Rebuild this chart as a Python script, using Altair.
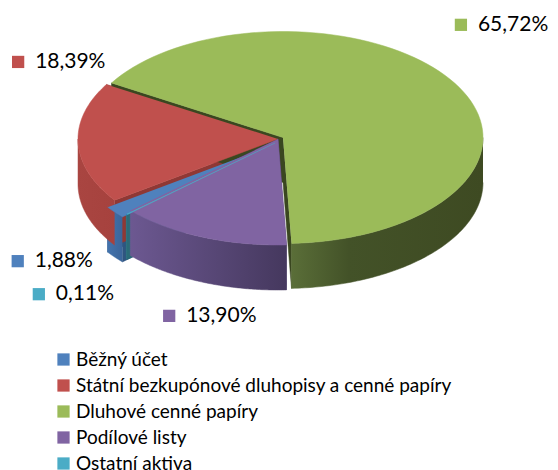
import altair as alt
import pandas as pd

# ---------------- data ----------------
categories = [
    "Běžný účet",
    "Státní bezkupónové dluhopisy a cenné papíry",
    "Dluhové cenné papíry",
    "Podílové listy",
    "Ostatní aktiva",
]
shares = [1.88, 18.39, 65.72, 13.90, 0.11]
label_texts = ["1,88%", "18,39%", "65,72%", "13,90%", "0,11%"]

# ---------------- style ----------------
top_colors = ["#4F81BD", "#C0504D", "#9BBB59", "#8064A2", "#4BACC6"]
wall_stops = [
    [(0, "#4373AD"), (1, "#3A659A")],
    [(0, "#A94541"), (1, "#A6423E")],
    [(0, "#5A6E38"), (0.3, "#435228"), (1, "#3E4A22")],
    [(0, "#6C5891"), (1, "#45385E")],
    [(0, "#2F7684"), (1, "#2A6A77")],
]
face_colors = ["#2F5580", "#8F3835", "#3A4720", "#4A3B6A", "#2A6B78"]
explode_dx = [-7, 0, 5, 0, -3]
explode_dy = [7, 0, -1.5, 0, 4]
label_dx = [-104, -60, 11, -32, -91]   # nudge of label marker from slice rim point
label_dy = [56, -81, -60, 79, 84]

W, H = 558, 470
CX, CY, RA, RB, DEPTH = 278, 139, 200, 106, 45
START = 228   # degrees clockwise from 12 o'clock where first slice begins
N = 90
FONT = "Lato"

df = pd.DataFrame({
    "cat": categories,
    "value": shares,
    "label": label_texts,
    "ord": list(range(len(categories))),
    "top_col": top_colors,
    "face_col": face_colors,
    "ox": explode_dx,
    "oy": explode_dy,
    "ldx": label_dx,
    "ldy": label_dy,
})

xs = alt.Scale(domain=[0, W], nice=False, zero=False)
ys = alt.Scale(domain=[0, H], nice=False, zero=False, reverse=True)

base = (
    alt.Chart(df)
    .transform_joinaggregate(total="sum(value)")
    .transform_window(cum="sum(value)", sort=[alt.SortField("ord")], frame=[None, 0])
    .transform_calculate(
        t1=f"{START} + (datum.cum - datum.value) / datum.total * 360",
        t2=f"{START} + datum.cum / datum.total * 360",
    )
    .transform_calculate(tm="(datum.t1 + datum.t2) / 2")
)

enc_xy = dict(
    x=alt.X("px:Q", scale=xs, axis=None),
    y=alt.Y("py:Q", scale=ys, axis=None),
)

# radial side faces of each slice (visible only in explode gaps)
faces = (
    base.transform_calculate(e="[0, 1]")
    .transform_flatten(["e"])
    .transform_calculate(te="(datum.e == 0 ? datum.t1 : datum.t2) * PI / 180")
    .transform_calculate(k="sequence(0, 4)")
    .transform_flatten(["k"])
    .transform_calculate(
        rim="(datum.k == 1 || datum.k == 2) ? 1 : 0",
        dn=f"(datum.k >= 2) ? {DEPTH} : 0",
    )
    .transform_calculate(
        px=f"{CX} + datum.ox + datum.rim * {RA} * sin(datum.te)",
        py=f"{CY} + datum.oy - datum.rim * {RB} * cos(datum.te) + datum.dn",
    )
    .mark_line(strokeWidth=0.5)
    .encode(
        **enc_xy,
        order="k:Q",
        detail=["cat:N", "e:Q"],
        fill=alt.Fill("face_col:N", scale=None),
        stroke=alt.Stroke("face_col:N", scale=None),
    )
)

# front walls (one layer per slice so each can carry its own shading)
wall_base = (
    base.transform_calculate(w="[0, 1]")
    .transform_flatten(["w"])
    .transform_calculate(
        lo="max(datum.t1, 90 + 360 * datum.w)",
        hi="min(datum.t2, 270 + 360 * datum.w)",
    )
    .transform_filter("datum.lo < datum.hi")
    .transform_calculate(k=f"sequence(0, {2 * N + 2})")
    .transform_flatten(["k"])
    .transform_calculate(j=f"datum.k <= {N} ? datum.k : {2 * N + 1} - datum.k")
    .transform_calculate(t=f"(datum.lo + (datum.hi - datum.lo) * datum.j / {N}) * PI / 180")
    .transform_calculate(
        px=f"{CX} + datum.ox + {RA} * sin(datum.t)",
        py=f"{CY} + datum.oy - {RB} * cos(datum.t) + (datum.k > {N} ? {DEPTH} : 0)",
    )
)
walls = []
for cat, stops in zip(categories, wall_stops):
    grad = alt.Gradient(
        gradient="linear",
        stops=[alt.GradientStop(offset=o, color=c) for o, c in stops],
        x1=0, x2=1, y1=0, y2=0,
    )
    walls.append(
        wall_base.transform_filter(alt.datum.cat == cat)
        .mark_line(fill=grad, stroke=grad, strokeWidth=0.5)
        .encode(**enc_xy, order="k:Q", detail=["cat:N", "w:Q"])
    )

# top faces
tops = (
    base.transform_calculate(k=f"sequence(-1, {N + 1})")
    .transform_flatten(["k"])
    .transform_calculate(t=f"(datum.t1 + (datum.t2 - datum.t1) * max(datum.k, 0) / {N}) * PI / 180")
    .transform_calculate(
        px=f"{CX} + datum.ox + (datum.k < 0 ? 0 : {RA} * sin(datum.t))",
        py=f"{CY} + datum.oy - (datum.k < 0 ? 0 : {RB} * cos(datum.t))",
    )
    .mark_line(strokeWidth=0.5)
    .encode(
        **enc_xy,
        order="k:Q",
        detail="cat:N",
        fill=alt.Fill(
            "cat:N",
            scale=alt.Scale(domain=categories, range=top_colors),
            legend=alt.Legend(
                title=None,
                orient="none",
                legendX=54,
                legendY=350,
                symbolType="square",
                symbolSize=150,
                symbolStrokeWidth=0,
                labelFont=FONT,
                labelFontSize=19,
                labelColor="#000000",
                labelLimit=0,
                labelOffset=3,
                rowPadding=6,
                padding=0,
            ),
        ),
        stroke=alt.Stroke("top_col:N", scale=None),
    )
)

# data labels: anchor at the rim point of each slice's mid angle, nudged outward
lab_base = base.transform_calculate(
    px=f"{CX} + {RA} * sin(datum.tm * PI / 180) + datum.ldx",
    py=f"{CY} - {RB} * cos(datum.tm * PI / 180) + datum.ldy",
)
lab_sq = lab_base.mark_square(size=150, opacity=1).encode(
    **enc_xy, fill=alt.Fill("top_col:N", scale=None)
)
lab_txt = lab_base.mark_text(
    align="left", baseline="middle", dx=17, font=FONT, fontSize=21, color="#000000"
).encode(**enc_xy, text="label:N")

chart = (
    alt.layer(faces, *walls, tops, lab_sq, lab_txt)
    .properties(width=W, height=H, autosize="none", padding=0)
    .configure_view(stroke=None)
)

chart.save("out.html", embed_options={"renderer": "svg", "actions": False})
